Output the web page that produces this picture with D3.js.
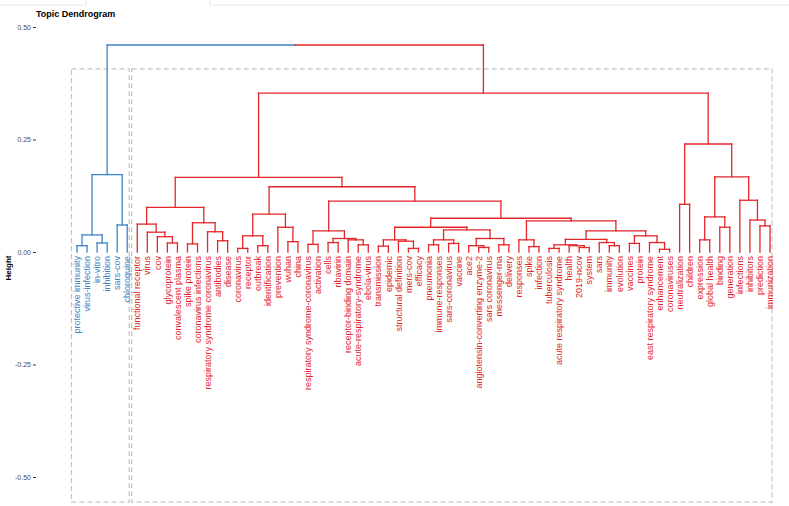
<!DOCTYPE html>
<html>
<head>
<meta charset="utf-8">
<script src="https://cdn.jsdelivr.net/npm/d3@7"></script>
<style>
  body { margin: 0; background: #fff; }
  svg { font-family: "Liberation Sans", Arial, sans-serif; }
</style>
</head>
<body>
<div id="container"></div>
<script>
// leaves, left to right as they hang in the dendrogram
const leafLabels = [
  "protective immunity", "virus-infection", "in-vitro", "inhibition", "sars-cov", "chloroquine",
  "functional receptor", "virus", "cov", "glycoprotein", "convalescent plasma", "spike protein",
  "coronavirus infections", "respiratory syndrome coronavirus", "antibodies", "disease", "coronavirus",
  "receptor", "outbreak", "identification", "prevention", "wuhan", "china",
  "respiratory syndrome-coronavirus", "activation", "cells", "ribavirin", "receptor-binding domain",
  "acute-respiratory-syndrome", "ebola-virus", "transmission", "epidemic", "structural definition",
  "mers-cov", "efficacy", "pneumonia", "immune-responses", "sars-coronavirus", "vaccine", "ace2",
  "angiotensin-converting enzyme-2", "sars coronavirus", "messenger-rna", "delivery", "responses",
  "spike", "infection", "tuberculosis", "acute respiratory syndrome", "health", "2019-ncov", "system",
  "sars", "immunity", "evolution", "vaccines", "protein", "east respiratory syndrome", "enhancement",
  "coronaviruses", "neutralization", "children", "expression", "global health", "binding", "generation",
  "infections", "inhibitors", "prediction", "immunization"
];

// merges (hclust style): a string is a leaf, a number is an earlier merge (1-based)
const mergeLeft = [
  "protective immunity", "in-vitro", 1, "sars-cov", 3,
  "glycoprotein", "cov", "virus", "functional receptor", "spike protein", "antibodies",
  "respiratory syndrome coronavirus", 10, 9, "coronavirus", "outbreak", 15, "wuhan", "prevention", 17,
  "respiratory syndrome-coronavirus", "cells", "acute-respiratory-syndrome", "receptor-binding domain", 22, 21,
  "transmission", "mers-cov", "structural definition", 27, "pneumonia", "sars-coronavirus", 31,
  "angiotensin-converting enzyme-2", "ace2", "messenger-rna", 35, 33, 30,
  "spike", "responses", "tuberculosis", "2019-ncov", "health", 42, "immunity", "sars", 45,
  "vaccines", "enhancement", "east respiratory syndrome", 49, 48, 41, 39, 26, 20, 14,
  "neutralization", "expression", "binding", 60, "prediction", "inhibitors", "infections", 62, 59, 58, 5
];
const mergeRight = [
  "virus-infection", "inhibition", 2, "chloroquine", 4,
  "convalescent plasma", 6, 7, 8, "coronavirus infections", "disease", 11, 12, 13, "receptor",
  "identification", 16, "china", 18, 19,
  "activation", "ribavirin", "ebola-virus", 23, 24, 25,
  "epidemic", "efficacy", 28, 29, "immune-responses", "vaccine", 32,
  "sars coronavirus", 34, "delivery", 36, 37, 38,
  "infection", 40, "acute respiratory syndrome", "system", 43, 44, "evolution", 46, 47,
  "protein", "coronaviruses", 50, 51, 52, 53, 54, 55, 56, 57,
  "children", "global health", "generation", 61, "immunization", 63, 64, 65, 66, 67, 68
];
const mergeHeight = [
  0.014, 0.020, 0.038, 0.060, 0.172,
  0.020, 0.034, 0.044, 0.062, 0.018, 0.025, 0.045, 0.065, 0.099, 0.008,
  0.014, 0.036, 0.023, 0.055, 0.084,
  0.017, 0.021, 0.016, 0.027, 0.030, 0.047,
  0.013, 0.008, 0.024, 0.027, 0.016, 0.019, 0.027,
  0.010, 0.014, 0.016, 0.030, 0.049, 0.055,
  0.012, 0.027, 0.008, 0.010, 0.014, 0.016, 0.014, 0.021, 0.028,
  0.019, 0.006, 0.021, 0.036, 0.047, 0.069, 0.075, 0.113, 0.145, 0.166,
  0.106, 0.027, 0.055, 0.078, 0.058, 0.071, 0.115, 0.167, 0.240, 0.353, 0.460
];
const yTicks = [0.5, 0.25, 0, -0.25, -0.5];
const clusterColors = ["#3F83C6", "#E3262A"];

const widthSVG = 789, heightSVG = 506;

const svg = d3.select("#container").append("svg")
  .attr("width", widthSVG).attr("height", heightSVG);

// faint borders of the boxes above the plot
svg.append("path")
  .attr("d", "M0,5H86V0M210,0V5H789")
  .attr("fill", "none").attr("stroke", "#e8e8e8").attr("stroke-width", 1);

const x = d3.scalePoint().domain(leafLabels).range([77, 770]);
const y = d3.scaleLinear().domain([-0.5, 0.5]).range([477, 27]);

// position of every node: leaves at height 0, merges at their height
function node(ref) {
  if (typeof ref === "string") return { x: x(ref), h: 0, leaves: [ref] };
  return nodes[ref - 1];
}
const nodes = [];
mergeHeight.forEach((h, i) => {
  const l = node(mergeLeft[i]), r = node(mergeRight[i]);
  nodes.push({ x: (l.x + r.x) / 2, h: h, l: l, r: r, leaves: l.leaves.concat(r.leaves) });
});

// cut into k = 2 groups: the two children of the root
const root = nodes[nodes.length - 1];
const groups = [root.l.leaves, root.r.leaves];
const colorOf = {};
groups.forEach((g, i) => g.forEach(d => colorOf[d] = clusterColors[i]));

// dashed rectangles round each group
const step = x.step();
svg.append("g").selectAll("rect")
  .data(groups)
  .enter()
  .append("rect")
  .attr("x", g => x(g[0]) - 0.55 * step)
  .attr("width", g => x(g[g.length - 1]) - x(g[0]) + 0.75 * step)
  .attr("y", y(0.407))
  .attr("height", y(-0.556) - y(0.407))
  .attr("fill", "none")
  .attr("stroke", "#c4c4c4")
  .attr("stroke-width", 1.2)
  .attr("stroke-dasharray", "5,3");

// segments of the tree
const segs = [];
nodes.forEach(n => {
  const c = n === root ? null : colorOf[n.leaves[0]];
  if (n === root) {
    segs.push({ x1: n.l.x, y1: n.h, x2: n.x, y2: n.h, c: clusterColors[0] });
    segs.push({ x1: n.x, y1: n.h, x2: n.r.x, y2: n.h, c: clusterColors[1] });
  } else {
    segs.push({ x1: n.l.x, y1: n.h, x2: n.r.x, y2: n.h, c: c });
  }
  [n.l, n.r].forEach(ch => {
    segs.push({ x1: ch.x, y1: n.h, x2: ch.x, y2: ch.h, c: colorOf[ch.leaves[0]] });
  });
});

svg.append("g").selectAll("line")
  .data(segs)
  .enter()
  .append("line")
  .attr("x1", d => d.x1).attr("x2", d => d.x2)
  .attr("y1", d => y(d.y1)).attr("y2", d => y(d.y2))
  .attr("stroke", d => d.c)
  .attr("stroke-width", 1.3)
  .attr("stroke-linecap", "square");

// leaf labels, rotated
svg.append("g").selectAll("text")
  .data(leafLabels)
  .enter()
  .append("text")
  .attr("transform", d => `translate(${x(d)},${y(0) + 4}) rotate(-90)`)
  .attr("dy", "0.35em")
  .attr("text-anchor", "end")
  .attr("fill", d => colorOf[d])
  .style("font-size", "9px")
  .text(d => d);

// y axis
const axis = svg.append("g")
  .attr("transform", "translate(36,0)")
  .call(d3.axisLeft(y).tickValues(yTicks).tickSize(3).tickPadding(2)
    .tickFormat(d => d3.format(".2f")(d).replace("\u2212", "-")));
axis.select(".domain").remove();
axis.selectAll(".tick line").attr("stroke", "#333");
axis.selectAll(".tick text").attr("fill", "#4d4d4d").style("font-size", "7px")
  .style("font-family", "'Liberation Sans', Arial, sans-serif");

svg.append("text")
  .attr("transform", "translate(11,268) rotate(-90)")
  .attr("text-anchor", "middle")
  .style("font-size", "8px")
  .style("font-weight", "bold")
  .text("Height");

svg.append("text")
  .attr("x", 36).attr("y", 17)
  .style("font-size", "9px")
  .style("font-weight", "bold")
  .text("Topic Dendrogram");
</script>
</body>
</html>
